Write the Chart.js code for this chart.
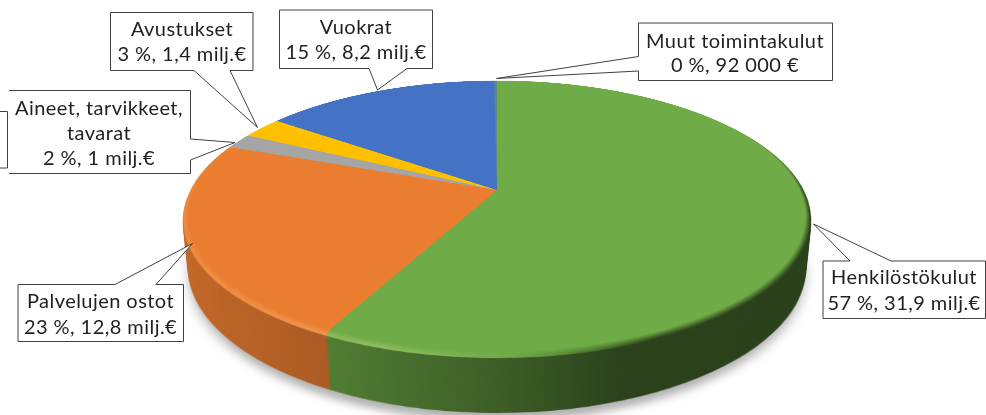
<!DOCTYPE html>
<html>
<head>
<meta charset="utf-8">
<script src="https://cdn.jsdelivr.net/npm/chart.js@4"></script>
<style>
  html, body { margin: 0; background: #fff; }
  #stage { position: relative; width: 986px; height: 415px; overflow: hidden; background: #fff; }
  /* the pie lies flat in 3D, values below were worked out from the rim of the picture */
  #scene { position: absolute; left: 177px; top: -130px; width: 640px; height: 640px;
           transform-origin: 320px 320px; transform: perspective(1421px) rotateX(64.5deg);
           transform-style: preserve-3d; }
  #scene canvas { position: absolute; left: 0; top: 0; }
  #labels { position: absolute; left: 0; top: 0; z-index: 2; }
  #labels text { font-family: Lato, sans-serif; font-size: 20px; letter-spacing: 0.45px; fill: #1f1f1f; text-anchor: middle; }
</style>
</head>
<body>
<div id="stage">
  <div id="scene"><canvas id="pieChart" width="640" height="640"></canvas></div>
  <svg id="labels" width="986" height="415"></svg>
</div>
<script>
const categories = ['Henkilöstökulut', 'Palvelujen ostot', 'Aineet, tarvikkeet, tavarat', 'Avustukset', 'Vuokrat', 'Muut toimintakulut'];
const values = [31.9, 12.8, 1.0, 1.4, 8.2, 0.092];
const valueLabels = ['57 %, 31,9 milj.€', '23 %, 12,8 milj.€', '2 %, 1 milj.€', '3 %, 1,4 milj.€', '15 %, 8,2 milj.€', '0 %, 92 000 €'];
const colors = ['#6FAB46', '#EB7D31', '#A5A5A5', '#FFC000', '#4472C4', '#5B8A8D'];

// callout boxes, same order as categories
const callouts = [
  { x: 904, y: [284, 309.5], box: [[823, 261], [850, 261], [813.5, 224], [891, 261], [985.5, 261], [985.5, 318.5], [823, 318.5]] },
  { x: 100.5, y: [308, 333.5], box: [[18, 284.5], [115, 284.5], [192.5, 243.5], [156, 284.5], [183.5, 284.5], [183.5, 341.5], [18, 341.5]] },
  { x: 99, y: [114.5, 139.5, 165], lines: ['Aineet, tarvikkeet,', 'tavarat'], open: true,
    box: [[9, 90.5], [190.5, 90.5], [190.5, 139], [235, 142.5], [190.5, 160], [190.5, 173.5], [9, 173.5]] },
  { x: 182, y: [35.5, 60.5], box: [[110.5, 12.5], [253, 12.5], [253, 70.5], [230, 70.5], [257.5, 127.5], [194, 70.5], [110.5, 70.5]] },
  { x: 356, y: [33.5, 59], box: [[279.5, 10], [432.5, 10], [432.5, 68.5], [407, 68.5], [377.5, 90], [369, 68.5], [279.5, 68.5]] },
  { x: 735, y: [47.5, 72], box: [[638.5, 23], [832.5, 23], [832.5, 80.5], [638.5, 80.5], [638.5, 71], [496.5, 78.5], [638.5, 56.5]] }
];

const pieChart = new Chart(document.getElementById('pieChart'), {
  type: 'pie',
  data: {
    labels: categories,
    datasets: [{ data: values, backgroundColor: colors, borderWidth: 0 }]
  },
  options: {
    responsive: false,
    animation: false,
    layout: { padding: 17 },
    plugins: { legend: { display: false }, tooltip: { enabled: false } }
  }
});

// bevel and side wall: copies of the drawn pie stacked downwards
const scene = document.getElementById('scene');
const topRadius = 303;
const fullRadius = 308;
const depth = 56;
const bevelDepth = 3;
const bevelSteps = 6;

function newCanvas(z) {
  const c = document.createElement('canvas');
  c.width = 640;
  c.height = 640;
  c.style.transform = 'translateZ(' + (-z) + 'px)';
  return c;
}

function addLayer(z, radius) {
  const c = newCanvas(z);
  scene.insertBefore(c, scene.firstChild);
  const ctx = c.getContext('2d');
  const size = 640 * radius / topRadius;
  ctx.drawImage(pieChart.canvas, 320 - size / 2, 320 - size / 2, size, size);
  ctx.globalCompositeOperation = 'source-atop';
  return ctx;
}

function xGradient(ctx, stops) {
  const g = ctx.createLinearGradient(0, 0, 640, 0);
  stops.forEach(function(s) { g.addColorStop(s[0], s[1]); });
  return g;
}

// rounded edge: light on the left side, going dark on the right, nothing on the far rim
for (let i = 1; i <= bevelSteps; i++) {
  const t = i / bevelSteps;
  const ctx = addLayer(bevelDepth * t, topRadius + (fullRadius - topRadius) * t);
  const tintCanvas = newCanvas(0);
  const tint = tintCanvas.getContext('2d');
  tint.fillStyle = xGradient(tint, [
    [0, 'rgba(255,200,120,' + 0.2 * t + ')'],
    [0.35, 'rgba(255,255,190,' + 0.24 * t + ')'],
    [0.52, 'rgba(255,255,190,0)'],
    [0.52, 'rgba(0,0,0,0)'],
    [0.7, 'rgba(0,0,0,' + 0.6 * t + ')'],
    [1, 'rgba(0,0,0,' + 0.62 * t + ')']
  ]);
  tint.fillRect(0, 0, 640, 640);
  const mask = tint.createLinearGradient(0, 150, 0, 320);
  mask.addColorStop(0, 'rgba(0,0,0,0)');
  mask.addColorStop(1, 'rgba(0,0,0,1)');
  tint.globalCompositeOperation = 'destination-in';
  tint.fillStyle = mask;
  tint.fillRect(0, 0, 640, 640);
  ctx.drawImage(tintCanvas, 0, 0);
}

for (let z = bevelDepth + 1; z <= depth; z++) {
  const ctx = addLayer(z, fullRadius);
  ctx.fillStyle = xGradient(ctx, [
    [0.03, 'rgba(0,0,0,0.16)'],
    [0.28, 'rgba(0,0,0,0.27)'],
    [0.5, 'rgba(0,0,0,0.45)'],
    [0.66, 'rgba(0,0,0,0.62)'],
    [1, 'rgba(0,0,0,0.63)']
  ]);
  ctx.fillRect(0, 0, 640, 640);
}

// soft shadow under the pie
const shadowCanvas = newCanvas(depth + 8);
scene.insertBefore(shadowCanvas, scene.firstChild);
const shadow = shadowCanvas.getContext('2d');
shadow.filter = 'brightness(0) blur(6px)';
shadow.globalAlpha = 0.3;
shadow.drawImage(pieChart.canvas, -5, -5, 650, 650);

// callouts
const svg = document.getElementById('labels');
const NS = 'http://www.w3.org/2000/svg';

function addPath(d, fill, stroke) {
  const p = document.createElementNS(NS, 'path');
  p.setAttribute('d', d);
  p.setAttribute('fill', fill);
  p.setAttribute('stroke', stroke);
  svg.appendChild(p);
}

// piece of a box cut off at the left edge
addPath('M0 111.5 H7.5 V168 H0', '#fff', '#404040');

callouts.forEach(function(c, i) {
  const d = 'M' + c.box.map(function(p) { return p[0] + ' ' + p[1]; }).join(' L') + (c.open ? '' : ' Z');
  addPath(d, '#fff', '#404040');
  const lines = (c.lines || [categories[i]]).concat(valueLabels[i]);
  lines.forEach(function(line, n) {
    const t = document.createElementNS(NS, 'text');
    t.setAttribute('x', c.x);
    t.setAttribute('y', c.y[n]);
    t.textContent = line;
    svg.appendChild(t);
  });
});
</script>
</body>
</html>
